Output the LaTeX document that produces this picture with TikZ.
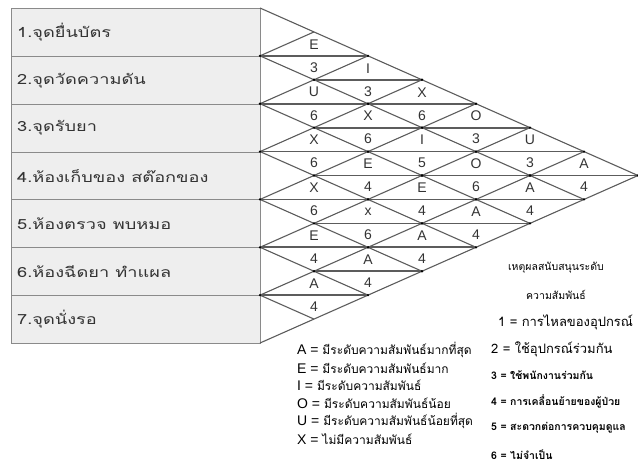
\documentclass[tikz,border=0pt]{standalone}
\usepackage{fontspec}
\setmainfont{Liberation Sans}
\newfontfamily\thaifont[Script=Thai]{Loma}
\newfontfamily\thaiwide[Script=Thai,FakeStretch=1.3]{Loma}
\usetikzlibrary{positioning}

\definecolor{chartGray}{HTML}{5C5C5C}
\definecolor{boxFill}{HTML}{EEEEEE}
\definecolor{boxEdge}{HTML}{8A8A8A}
\definecolor{inkGray}{HTML}{333333}

\begin{document}
\begin{tikzpicture}[
  x=1pt,y=-1pt,
  rowbox/.style={draw=boxEdge,fill=boxFill,line width=1pt,anchor=north west,
    minimum width=249pt,minimum height=47.86pt,inner sep=0pt},
  rowlabel/.style={anchor=west,inner sep=0pt,text=inkGray,
    font=\thaiwide\fontsize{14}{16}\selectfont},
  diag/.style={draw=chartGray,line width=1.1pt},
  midline/.style={draw=chartGray,line width=1.7pt},
  cell/.style={inner sep=0pt,text=inkGray,font=\fontsize{14}{16}\selectfont},
  keyline/.style={anchor=west,inner sep=0pt,font=\fontsize{14}{16}\selectfont},
  whyhead/.style={inner sep=0pt,font=\thaifont\fontsize{10.5}{12}\selectfont},
  whyline/.style={anchor=west,inner sep=0pt},
]
\useasboundingbox (0,0) rectangle (638,464);

% department boxes
\foreach \lab [count=\k] in {1.จุดยื่นบัตร,2.จุดวัดความดัน,3.จุดรับยา,4.ห้องเก็บของ สต๊อกของ,5.ห้องตรวจ พบหมอ,6.ห้องฉีดยา ทำแผล,7.จุดนั่งรอ}{
  \node[rowbox] (row\k) at (11,{8+(\k-1)*47.857}) {};
  \node[rowlabel] (lab\k) at ([xshift=6pt]row\k.west) {\lab};
}

% diagonal grid
\foreach \k in {0,...,7}
  \coordinate (L\k) at (260,{8+\k*47.857});
\foreach \k in {0,...,6}{
  \coordinate (D\k) at ({260+(7-\k)*54},{8+\k*47.857+(7-\k)*23.93});
  \draw[diag] (L\k) -- (D\k);
}
\foreach \k in {1,...,7}{
  \coordinate (U\k) at ({260+\k*54},{8+\k*23.93});
  \draw[diag] (L\k) -- (U\k);
}

% one diamond per pair: rating above, reason below
\foreach \i/\j/\rel/\why in {1/2/E/3,1/3/I/3,1/4/X/6,1/5/O/3,1/6/U/3,1/7/A/4,
    2/3/U/6,2/4/X/6,2/5/I/5,2/6/O/6,2/7/A/4,3/4/X/6,3/5/E/4,3/6/E/4,3/7/A/4,
    4/5/X/6,4/6/x/6,4/7/A/4,5/6/E/4,5/7/A/4,6/7/A/4}{
  \pgfmathsetmacro\cx{260+(\j-\i)*54}
  \pgfmathsetmacro\cy{8+(\i+\j-1)*23.93}
  \coordinate (w\i\j) at ({\cx-54},\cy);
  \coordinate (e\i\j) at ({\cx+54},\cy);
  \draw[midline] (w\i\j) -- (e\i\j);
  \fill (w\i\j) circle (1.3pt) (e\i\j) circle (1.3pt);
  \node[cell] (rel\i\j) at (\cx,{\cy-11.5}) {\rel};
  \node[cell] (why\i\j) at (\cx,{\cy+11.5}) {\why};
}

% rating key
\foreach \lvl/\desc [count=\n] in {A/มีระดับความสัมพันธ์มากที่สุด,E/มีระดับความสัมพันธ์มาก,I/มีระดับความสัมพันธ์,O/มีระดับความสัมพันธ์น้อย,U/มีระดับความสัมพันธ์น้อยที่สุด,X/ไม่มีความสัมพันธ์}
  \node[keyline] (key\lvl) at (297,{350+(\n-1)*17.8}) {\lvl{} = {\thaifont\fontsize{12}{13}\selectfont\desc}};

% reason key
\node[whyhead] (head1) at (556,268) {เหตุผลสนับสนุนระดับ};
\node[whyhead] (head2) at (556,295) {ความสัมพันธ์};
\node[whyline,font=\thaifont\fontsize{13}{14}\selectfont] (reason1) at (498,322) {1 = การไหลของอุปกรณ์};
\node[whyline,font=\thaifont\fontsize{13}{14}\selectfont] (reason2) at (491,349) {2 = ใช้อุปกรณ์ร่วมกัน};
\foreach \desc [count=\n from 3] in {ใช้พนักงานร่วมกัน,การเคลื่อนย้ายของผู้ป่วย,สะดวกต่อการควบคุมดูแล,ไม่จำเป็น}
  \node[whyline,font=\thaifont\bfseries\fontsize{10.5}{12}\selectfont] (reason\n) at (491,{375+(\n-3)*26.6}) {\n{} = \desc};
\end{tikzpicture}
\end{document}
